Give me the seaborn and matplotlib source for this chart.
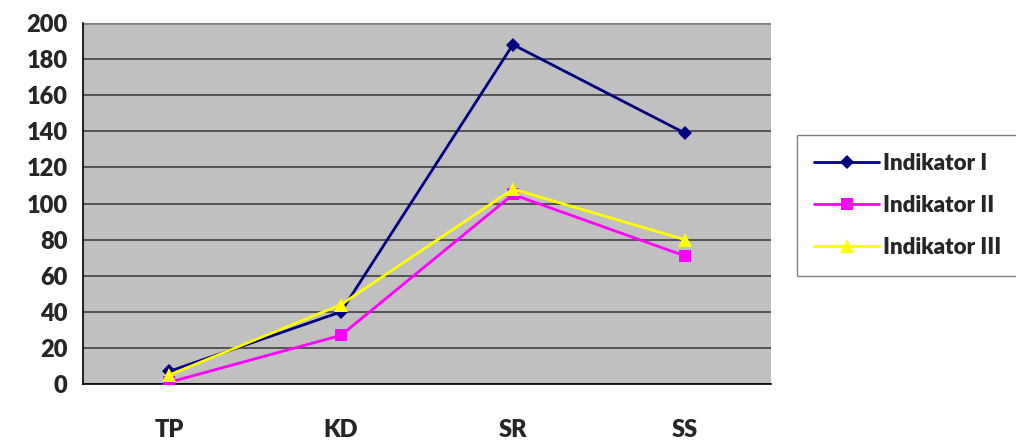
import matplotlib
matplotlib.use("Agg")
import matplotlib.pyplot as plt
import pandas as pd
import seaborn as sns

categories = ["TP", "KD", "SR", "SS"]
indikator_1 = [7, 40, 188, 139]
indikator_2 = [1, 27, 105, 71]
indikator_3 = [5, 44, 108, 80]
series_names = ["Indikator I", "Indikator II", "Indikator III"]

df = pd.DataFrame({
    "kategori": categories * 3,
    "nilai": indikator_1 + indikator_2 + indikator_3,
    "seri": [s for s in series_names for _ in categories],
})

sns.set_style("white")
plt.rcParams["font.family"] = ["Lato", "DejaVu Sans"]
plt.rcParams["font.weight"] = "bold"

fig = plt.figure(figsize=(10.16, 4.41), dpi=100)
ax = fig.add_axes([0.0817, 0.129, 0.677, 0.819])
ax.set_facecolor("#c0c0c0")

colors = {"Indikator I": "#000080", "Indikator II": "#ff00ff", "Indikator III": "#ffff00"}
markers = {"Indikator I": "D", "Indikator II": "s", "Indikator III": "^"}
sizes = {"Indikator I": 7, "Indikator II": 9, "Indikator III": 10}

for name in series_names:
    sub = df[df["seri"] == name]
    sns.lineplot(data=sub, x="kategori", y="nilai", ax=ax, color=colors[name],
                 marker=markers[name], markersize=sizes[name], markeredgewidth=0,
                 linewidth=2.0, label=name, zorder=3)

ax.set_xlim(-0.5, 3.5)
ax.set_ylim(0, 200)
ax.set_yticks(range(0, 201, 20))
ax.yaxis.grid(True, color="#404040", linewidth=1.2)
ax.set_axisbelow(True)
ax.axhline(200, color="#808080", linewidth=2, zorder=1)

ax.set_xticks(range(len(categories)))
ax.set_xticklabels(categories)
ax.set_xticks([-0.5, 0.5, 1.5, 2.5, 3.5], minor=True)
ax.tick_params(axis="x", which="major", length=0, pad=25, labelsize=17)
ax.tick_params(axis="x", which="minor", length=8, width=1, color="#808080", direction="out")
ax.tick_params(axis="y", length=8, width=1, color="#808080", direction="out", labelsize=17, pad=3)
for lbl in ax.get_xticklabels() + ax.get_yticklabels():
    lbl.set_fontweight("heavy")

for side in ["top", "right"]:
    ax.spines[side].set_visible(False)
ax.spines["left"].set_color("black")
ax.spines["left"].set_linewidth(1.2)
ax.spines["bottom"].set_color("black")
ax.spines["bottom"].set_linewidth(1.2)
ax.set_xlabel("")
ax.set_ylabel("")

ax.get_legend().remove()
handles, labels = ax.get_legend_handles_labels()
leg = fig.legend(handles, labels, loc="upper left", bbox_to_anchor=(0.784, 0.694),
                 borderaxespad=0, frameon=True, fancybox=False, edgecolor="#606060",
                 prop={"size": 16, "weight": "heavy"}, handlelength=2.9,
                 labelspacing=0.95, borderpad=0.8, handletextpad=0.2)
leg.get_frame().set_linewidth(1.0)

fig.savefig("out.png", dpi=100)
